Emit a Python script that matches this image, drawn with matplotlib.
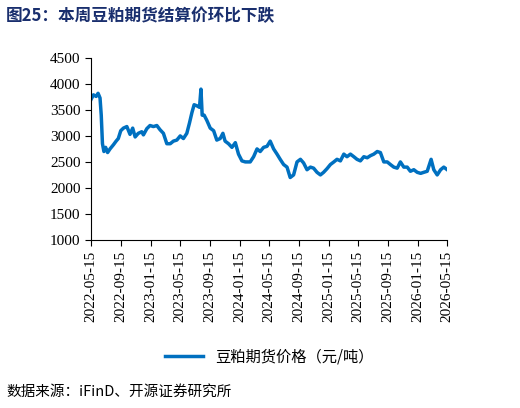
import matplotlib
matplotlib.use('Agg')
import matplotlib.pyplot as plt
import matplotlib.dates as mdates
import numpy as np
import datetime as dt

plt.rcParams['font.family'] = ['Liberation Serif', 'Noto Sans CJK SC']

start = dt.date(2022, 5, 15)
days = [0, 10, 21, 29, 37, 42, 47, 53, 60, 68, 78, 92, 103, 112, 122, 133, 147, 160, 171, 181,
        194, 208, 215, 229, 242, 256, 270, 283, 297, 311, 325, 338, 352, 366, 379, 393, 404, 414,
        423, 434, 445, 451, 456, 464, 475, 489, 503, 516, 530, 541, 550, 564, 578, 592, 605, 619,
        633, 653, 667, 681, 694, 708, 722, 735, 749, 763, 776, 790, 804, 817, 831, 845, 859, 872,
        886, 900, 913, 927, 941, 954, 968, 982, 996, 1009, 1023, 1037, 1050, 1064, 1078, 1091,
        1105, 1119, 1133, 1146, 1160, 1174, 1187, 1201, 1215, 1228, 1242, 1256, 1269, 1283, 1297,
        1310, 1324, 1338, 1352, 1365, 1379, 1395, 1406, 1420, 1434, 1447, 1461]
price = [3700, 3790, 3760, 3820, 3730, 3400, 2850, 2700, 2780, 2680, 2750, 2830, 2900, 2950, 3100,
         3150, 3180, 3030, 3150, 2980, 3050, 3080, 3020, 3140, 3200, 3180, 3200, 3120, 3050, 2850,
         2850, 2900, 2920, 3000, 2950, 3050, 3250, 3450, 3600, 3580, 3550, 3900, 3400, 3400, 3300,
         3150, 3100, 2920, 2950, 3050, 2900, 2850, 2780, 2870, 2650, 2520, 2500, 2500, 2600, 2750,
         2700, 2780, 2800, 2900, 2750, 2650, 2550, 2450, 2400, 2200, 2250, 2500, 2550, 2480, 2350,
         2400, 2380, 2300, 2250, 2300, 2370, 2450, 2500, 2550, 2520, 2650, 2600, 2650, 2600, 2550,
         2520, 2600, 2580, 2620, 2650, 2700, 2680, 2500, 2500, 2450, 2400, 2380, 2500, 2400, 2400,
         2320, 2350, 2300, 2280, 2300, 2320, 2550, 2350, 2250, 2350, 2400, 2350]
dates = [start + dt.timedelta(days=d) for d in days]
tick_dates = [dt.date(2022 + (4 + 4 * i) // 12, (4 + 4 * i) % 12 + 1, 15) for i in range(13)]

fig = plt.figure(figsize=(5.2, 4.08), dpi=100)
ax = fig.add_axes([0.175, 0.412, 0.685, 0.446])
ax.plot(dates, price, color='#0070C0', linewidth=2.5, label='豆粕期货价格（元/吨）')
ax.set_ylim(1000, 4500)
ax.set_yticks(range(1000, 4501, 500))
ax.set_xlim(start, dt.date(2026, 5, 15))
ax.set_xticks(tick_dates)
ax.xaxis.set_major_formatter(mdates.DateFormatter('%Y-%m-%d'))
plt.setp(ax.get_xticklabels(), rotation=90, fontsize=11)
plt.setp(ax.get_yticklabels(), fontsize=11)
for s in ['top', 'right']:
    ax.spines[s].set_visible(False)
ax.tick_params(direction='out', length=4)
ax.legend(loc='upper center', bbox_to_anchor=(0.5, -0.52), frameon=False,
          handlelength=2.5, prop={'family': ['Noto Sans CJK SC'], 'size': 11})

fig.text(0.012, 0.96, '图25：本周豆粕期货结算价环比下跌', fontsize=12, fontweight='bold',
         color='#1A2F6E', family=['Noto Sans CJK SC'], va='center')
fig.text(0.012, 0.04, '数据来源：iFinD、开源证券研究所', fontsize=10.5,
         family=['Noto Sans CJK SC'], va='center')
fig.savefig('out.png', dpi=100)
